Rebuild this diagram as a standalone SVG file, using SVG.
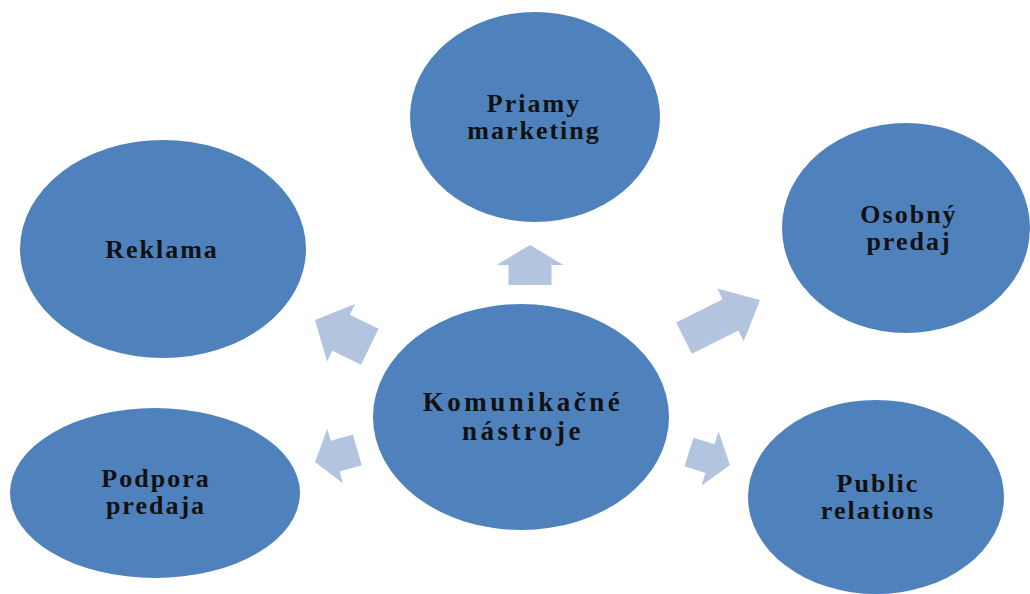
<svg xmlns="http://www.w3.org/2000/svg" width="1030" height="594" viewBox="0 0 1030 594">
  <style>
    .node { fill: #4f81bd; }
    .lbl { font-family: "Liberation Serif", "Times New Roman", serif; font-weight: bold; font-size: 26px; letter-spacing: 2px; fill: #111; text-anchor: middle; }
    .big { font-size: 27px; letter-spacing: 3.5px; }
    .arr { fill: #b3c4de; }
  </style>
  <rect width="1030" height="594" fill="#ffffff"/>
  <g id="connectors">
    <polygon class="arr" transform="translate(530,245) rotate(-90)" points="0,0 -20,33.5 -20,21.5 -40,21.5 -40,-21.5 -20,-21.5 -20,-33.5"/>
    <polygon class="arr" transform="translate(760,300) rotate(-26.6)" points="0,0 -33,29.5 -33,17.5 -85,17.5 -85,-17.5 -33,-17.5 -33,-29.5"/>
    <polygon class="arr" transform="translate(315,320) rotate(206)" points="0,0 -29,32 -29,20 -61,20 -61,-20 -29,-20 -29,-32"/>
    <polygon class="arr" transform="translate(315,462) rotate(164)" points="0,0 -21,28.5 -21,16 -44,16 -44,-16 -21,-16 -21,-28.5"/>
    <polygon class="arr" transform="translate(730,465) rotate(17.6)" points="0,0 -21,28.5 -21,15 -43,15 -43,-15 -21,-15 -21,-28.5"/>
  </g>
  <g id="priamy-marketing">
    <ellipse class="node" cx="535" cy="117" rx="125" ry="105"/>
    <text class="lbl" x="534" y="112">Priamy</text>
    <text class="lbl" x="534" y="139">marketing</text>
  </g>
  <g id="reklama">
    <ellipse class="node" cx="163" cy="249" rx="143" ry="109"/>
    <text class="lbl" x="162" y="258">Reklama</text>
  </g>
  <g id="osobny-predaj">
    <ellipse class="node" cx="906" cy="228" rx="124" ry="105"/>
    <text class="lbl" x="909" y="223">Osobný</text>
    <text class="lbl" x="909" y="250">predaj</text>
  </g>
  <g id="komunikacne-nastroje">
    <ellipse class="node" cx="521" cy="417" rx="148" ry="113"/>
    <text class="lbl big" x="523" y="411">Komunikačné</text>
    <text class="lbl big" x="523" y="440">nástroje</text>
  </g>
  <g id="podpora-predaja">
    <ellipse class="node" cx="155" cy="493" rx="145" ry="85"/>
    <text class="lbl" x="156" y="487">Podpora</text>
    <text class="lbl" x="156" y="514">predaja</text>
  </g>
  <g id="public-relations">
    <ellipse class="node" cx="876" cy="497" rx="128" ry="97"/>
    <text class="lbl" x="878" y="492">Public</text>
    <text class="lbl" x="878" y="519">relations</text>
  </g>
</svg>
